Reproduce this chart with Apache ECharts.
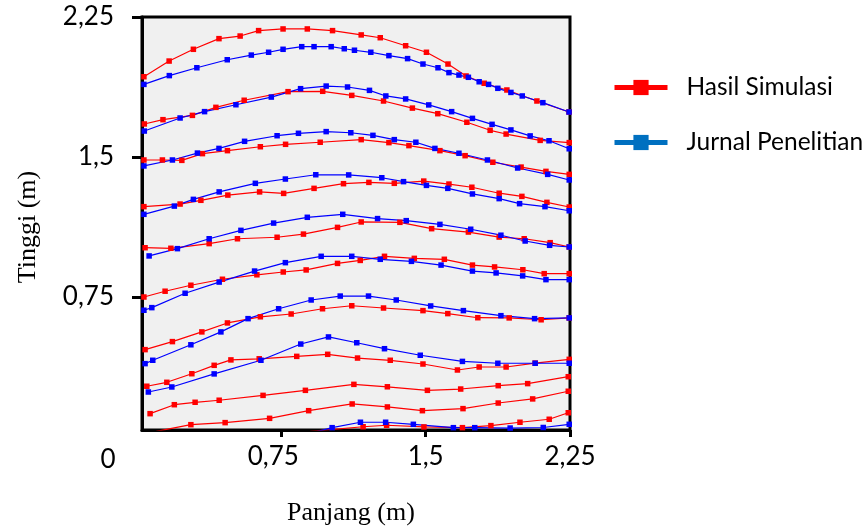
<!DOCTYPE html>
<html><head><meta charset="utf-8">
<script src="https://cdn.jsdelivr.net/npm/echarts@6/dist/echarts.min.js"></script>
<style>html,body{margin:0;padding:0;background:#fff}#c{width:866px;height:530px}</style>
</head><body><div id="c"></div>
<script>
// ---- data (x = Panjang (m), y = Tinggi (m)) ----
const xTicks = [0.75, 1.5, 2.25];
const xTickLabels = ['0,75', '1,5', '2,25'];
const yTicks = [0.75, 1.5, 2.25];
const yTickLabels = ['0,75', '1,5', '2,25'];
const seriesNames = ['Hasil Simulasi', 'Jurnal Penelitian'];

const sim1 = [[0.036,1.930],[0.167,2.014],[0.293,2.077],[0.426,2.134],[0.536,2.148],[0.632,2.177],[0.759,2.186],[0.885,2.186],[1.016,2.177],[1.165,2.154],[1.264,2.139],[1.396,2.096],[1.504,2.061],[1.616,1.998],[1.710,1.934],[1.804,1.895],[1.922,1.859],[2.078,1.800],[2.245,1.741]];
const sim2 = [[0.038,1.677],[0.135,1.700],[0.288,1.723],[0.410,1.766],[0.557,1.804],[0.785,1.850],[0.965,1.852],[1.116,1.830],[1.281,1.800],[1.431,1.762],[1.563,1.732],[1.714,1.686],[1.835,1.643],[1.918,1.623],[2.095,1.589],[2.246,1.577]];
const sim3 = [[0.036,1.484],[0.132,1.484],[0.233,1.482],[0.340,1.518],[0.470,1.534],[0.641,1.555],[0.772,1.568],[0.952,1.579],[1.165,1.593],[1.309,1.577],[1.413,1.561],[1.574,1.534],[1.705,1.507],[1.849,1.472],[1.996,1.446],[2.125,1.423],[2.246,1.407]];
const sim4 = [[0.036,1.234],[0.224,1.248],[0.332,1.268],[0.472,1.296],[0.637,1.313],[0.762,1.305],[0.920,1.332],[1.073,1.357],[1.205,1.364],[1.337,1.359],[1.490,1.371],[1.621,1.355],[1.740,1.338],[1.882,1.306],[2.000,1.289],[2.130,1.257],[2.246,1.232]];
const sim5 = [[0.042,1.014],[0.176,1.011],[0.375,1.036],[0.522,1.062],[0.728,1.070],[0.865,1.087],[1.042,1.123],[1.165,1.152],[1.366,1.150],[1.531,1.116],[1.722,1.098],[1.882,1.071],[2.012,1.062],[2.147,1.041],[2.246,1.018]];
const sim6 = [[0.036,0.750],[0.146,0.781],[0.280,0.813],[0.444,0.845],[0.623,0.869],[0.760,0.884],[0.879,0.895],[1.042,0.930],[1.160,0.946],[1.286,0.968],[1.441,0.957],[1.597,0.952],[1.743,0.921],[1.858,0.911],[2.005,0.896],[2.116,0.875],[2.246,0.875]];
const sim7 = [[0.042,0.468],[0.184,0.511],[0.337,0.563],[0.470,0.611],[0.641,0.644],[0.801,0.659],[0.964,0.687],[1.116,0.703],[1.281,0.691],[1.486,0.677],[1.615,0.661],[1.771,0.639],[1.934,0.638],[2.100,0.628],[2.246,0.638]];
const sim8 = [[0.051,0.272],[0.155,0.293],[0.285,0.339],[0.401,0.384],[0.488,0.413],[0.635,0.419],[0.830,0.432],[0.991,0.443],[1.146,0.423],[1.316,0.411],[1.486,0.391],[1.665,0.359],[1.778,0.375],[1.918,0.375],[2.069,0.396],[2.246,0.416]];
const sim9 = [[0.068,0.125],[0.194,0.173],[0.302,0.186],[0.427,0.197],[0.655,0.223],[0.875,0.250],[1.127,0.282],[1.301,0.269],[1.509,0.250],[1.682,0.257],[1.877,0.275],[2.030,0.286],[2.241,0.323]];
const sim10 = [[0.100,0.030],[0.280,0.066],[0.458,0.077],[0.689,0.100],[0.892,0.141],[1.118,0.177],[1.301,0.161],[1.483,0.141],[1.694,0.152],[1.877,0.182],[2.056,0.204],[2.241,0.245]];
const sim11 = [[0.900,0.030],[1.175,0.055],[1.297,0.063],[1.491,0.054],[1.691,0.050],[1.839,0.061],[1.990,0.079],[2.142,0.095],[2.241,0.130]];

const jur1 = [[0.036,1.889],[0.168,1.936],[0.311,1.978],[0.469,2.021],[0.594,2.046],[0.684,2.061],[0.759,2.077],[0.856,2.091],[0.920,2.091],[1.009,2.091],[1.077,2.080],[1.130,2.072],[1.215,2.061],[1.309,2.043],[1.406,2.027],[1.486,1.998],[1.564,1.978],[1.621,1.952],[1.673,1.939],[1.722,1.927],[1.778,1.903],[1.827,1.889],[1.875,1.868],[1.943,1.846],[2.002,1.827],[2.109,1.791],[2.245,1.741]];
const jur2 = [[0.038,1.639],[0.224,1.709],[0.351,1.743],[0.514,1.780],[0.698,1.821],[0.850,1.866],[0.983,1.880],[1.094,1.875],[1.208,1.857],[1.293,1.827],[1.396,1.811],[1.516,1.779],[1.635,1.743],[1.743,1.707],[1.845,1.675],[1.943,1.645],[2.043,1.613],[2.141,1.587],[2.246,1.544]];
const jur3 = [[0.036,1.452],[0.184,1.484],[0.314,1.521],[0.426,1.546],[0.559,1.584],[0.728,1.614],[0.839,1.627],[0.983,1.636],[1.111,1.630],[1.226,1.616],[1.337,1.593],[1.449,1.579],[1.548,1.546],[1.673,1.520],[1.821,1.484],[1.978,1.441],[2.134,1.407],[2.246,1.377]];
const jur4 = [[0.036,1.193],[0.194,1.237],[0.293,1.273],[0.427,1.313],[0.615,1.359],[0.771,1.382],[0.929,1.405],[1.100,1.404],[1.272,1.389],[1.385,1.368],[1.504,1.348],[1.615,1.332],[1.743,1.302],[1.882,1.277],[1.988,1.250],[2.120,1.234],[2.246,1.212]];
const jur5 = [[0.063,0.970],[0.210,1.009],[0.375,1.062],[0.540,1.107],[0.710,1.146],[0.885,1.177],[1.069,1.193],[1.250,1.170],[1.399,1.159],[1.574,1.139],[1.734,1.113],[1.891,1.081],[2.017,1.050],[2.144,1.027],[2.246,1.018]];
const jur6 = [[0.036,0.679],[0.077,0.693],[0.250,0.770],[0.427,0.830],[0.611,0.889],[0.771,0.934],[0.957,0.968],[1.116,0.968],[1.264,0.952],[1.426,0.941],[1.580,0.921],[1.743,0.889],[1.866,0.879],[2.004,0.863],[2.125,0.843],[2.246,0.843]];
const jur7 = [[0.042,0.393],[0.082,0.411],[0.280,0.494],[0.436,0.563],[0.577,0.634],[0.736,0.687],[0.905,0.734],[1.056,0.755],[1.203,0.755],[1.347,0.734],[1.526,0.702],[1.696,0.677],[1.891,0.650],[2.066,0.634],[2.246,0.638]];
const jur8 = [[0.059,0.241],[0.181,0.268],[0.401,0.338],[0.644,0.411],[0.851,0.498],[0.995,0.536],[1.142,0.505],[1.286,0.473],[1.472,0.438],[1.691,0.405],[1.875,0.395],[2.069,0.395],[2.246,0.395]];
const jur9 = [[0.900,0.020],[1.014,0.050],[1.161,0.079],[1.292,0.079],[1.436,0.068],[1.644,0.050],[1.755,0.050],[1.939,0.048],[2.111,0.051],[2.246,0.068]];

const simSets = [sim1, sim2, sim3, sim4, sim5, sim6, sim7, sim8, sim9, sim10, sim11];
const jurSets = [jur1, jur2, jur3, jur4, jur5, jur6, jur7, jur8, jur9];

// ---- chart ----
const chart = echarts.init(document.getElementById('c'), null, {renderer: 'canvas'});
const LABEL_FONT = 'Lato';
const SERIF = 'Liberation Serif';

function mkSeries(name, data, color) {
  return {
    name: name, type: 'line', data: data, symbol: 'rect', symbolSize: 5.5,
    clip: true, silent: true,
    lineStyle: {color: color, width: 1.2},
    itemStyle: {color: color},
    emphasis: {disabled: true}
  };
}
const series = [];
simSets.forEach(d => series.push(mkSeries(seriesNames[0], d, '#ff0000')));
jurSets.forEach(d => series.push(mkSeries(seriesNames[1], d, '#0000ff')));

function lab(vals, labels) {
  return function (v) {
    for (let i = 0; i < vals.length; i++) if (Math.abs(vals[i] - v) < 1e-6) return labels[i];
    return '';
  };
}
const xLab = lab(xTicks, xTickLabels);

chart.setOption({
  animation: false,
  backgroundColor: '#ffffff',
  grid: {left: 142, right: 296, top: 17, bottom: 100, show: true,
         backgroundColor: '#f0f0f0', borderColor: '#000', borderWidth: 3},
  xAxis: {
    type: 'value', min: 0.026, max: 2.25,
    axisLine: {show: true, onZero: false, lineStyle: {color: '#000', width: 3}},
    axisTick: {show: true, customValues: xTicks, length: 7, lineStyle: {color: '#000', width: 3}},
    axisLabel: {
      customValues: xTicks, margin: 14, color: '#000', fontFamily: LABEL_FONT, fontSize: 26,
      formatter: function (v) { const t = xLab(v); return t === xTickLabels[0] ? '{s|' + t + '}' : t; },
      rich: {s: {fontFamily: LABEL_FONT, fontSize: 26, color: '#000', padding: [0, 16, 0, 0]}}
    },
    splitLine: {show: false}
  },
  yAxis: {
    type: 'value', min: 0.0375, max: 2.25,
    axisLine: {show: true, onZero: false, lineStyle: {color: '#000', width: 3}},
    axisTick: {show: true, customValues: yTicks, length: 10, lineStyle: {color: '#000', width: 3}},
    axisLabel: {customValues: yTicks, margin: 28, color: '#000', fontFamily: LABEL_FONT, fontSize: 26,
      formatter: lab(yTicks, yTickLabels)},
    splitLine: {show: false}
  },
  legend: {
    orient: 'vertical', left: 612, top: 75, padding: 0,
    itemWidth: 53, itemHeight: 19, itemGap: 30, itemTextGap: 8,
    selectedMode: false,
    formatter: function (name) { return '{t|' + name + '}'; },
    textStyle: {fontFamily: LABEL_FONT, fontSize: 24.5, color: '#000',
      rich: {t: {fontFamily: LABEL_FONT, fontSize: 24.5, color: '#000', padding: [0, 0, 0, 14]}}},
    data: [
      {name: seriesNames[0], itemStyle: {color: '#ff0000'}, lineStyle: {color: '#ff0000', width: 5}},
      {name: seriesNames[1], itemStyle: {color: '#0070c0'}, lineStyle: {color: '#0070c0', width: 5}}
    ]
  },
  graphic: [
    {type: 'text', x: 28, y: 227, rotation: Math.PI / 2,
     style: {text: 'Tinggi (m)', fontFamily: SERIF, fontSize: 26, fill: '#000', align: 'center', verticalAlign: 'middle'}},
    {type: 'text', x: 351, y: 513,
     style: {text: 'Panjang (m)', fontFamily: SERIF, fontSize: 26, fill: '#000', align: 'center', verticalAlign: 'middle'}},
    {type: 'text', x: 108, y: 460,
     style: {text: '0', fontFamily: LABEL_FONT, fontSize: 26, fill: '#000', align: 'center', verticalAlign: 'middle'}}
  ],
  series: series
});
</script>
</body></html>
